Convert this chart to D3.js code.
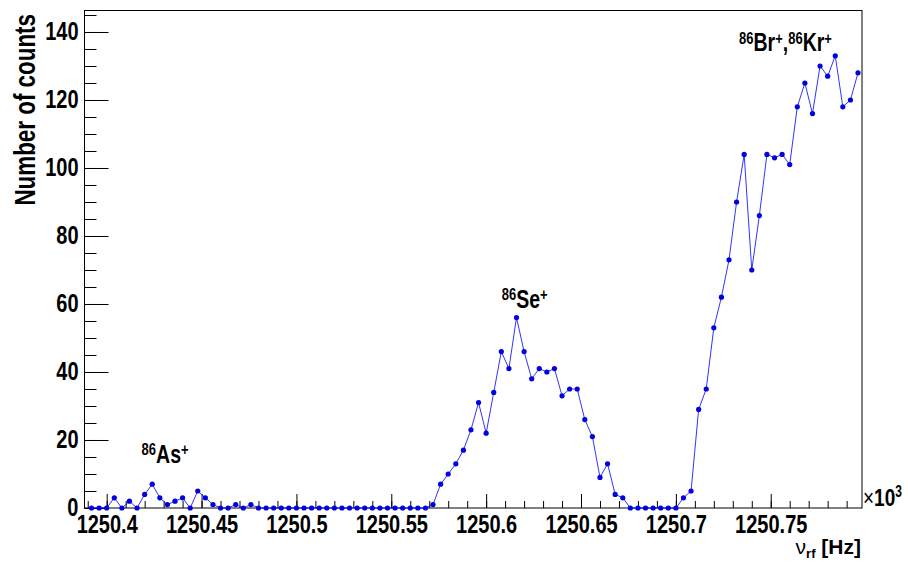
<!DOCTYPE html>
<html><head><meta charset="utf-8">
<script src="https://cdn.jsdelivr.net/npm/d3@7"></script>
<style>
body{margin:0;background:#fff}
svg{display:block}
text{font-family:"Liberation Sans",Arial,Helvetica,sans-serif}
</style>
</head><body>
<svg id="c" width="908" height="562"></svg>
<script>
// ---- data (frequency in Hz, counts) ----
const freqHz = [
 1250392,1250396,1250400,1250404,1250408,1250412,1250416,1250420,1250424,1250428,
 1250432,1250436,1250440,1250444,1250448,1250452,1250456,1250460,1250464,1250468,
 1250472,1250476,1250480,1250484,1250488,1250492,1250496,1250500,1250504,1250508,
 1250512,1250516,1250520,1250524,1250528,1250532,1250536,1250540,1250544,1250548,
 1250552,1250556,1250560,1250564,1250568,1250572,1250576,1250580,1250584,1250588,
 1250592,1250596,1250600,1250604,1250608,1250612,1250616,1250620,1250624,1250628,
 1250632,1250636,1250640,1250644,1250648,1250652,1250656,1250660,1250664,1250668,
 1250672,1250676,1250680,1250684,1250688,1250692,1250696,1250700,1250704,1250708,
 1250712,1250716,1250720,1250724,1250728,1250732,1250736,1250740,1250744,1250748,
 1250752,1250756,1250760,1250764,1250768,1250772,1250776,1250780,1250784,1250788,
 1250792,1250796
];
const counts = [
 0,0,0,3,0,2,0,4,7,3,
 1,2,3,0,5,3,1,0,0,1,
 0,1,0,0,0,0,0,0,0,0,
 0,0,0,0,0,0,0,0,0,0,
 0,0,0,0,0,1,7,10,13,17,
 23,31,22,34,46,41,56,46,38,41,
 40,41,33,35,35,26,21,9,13,4,
 3,0,0,0,0,0,0,0,3,5,
 29,35,53,62,73,90,104,70,86,104,
 103,104,101,118,125,116,130,127,133,118,
 120,128
];
const xTickValues = [1250.4,1250.45,1250.5,1250.55,1250.6,1250.65,1250.7,1250.75];
const xTickLabels = ["1250.4","1250.45","1250.5","1250.55","1250.6","1250.65","1250.7","1250.75"];
const yTickValues = [0,20,40,60,80,100,120,140];
const yTickLabels = ["0","20","40","60","80","100","120","140"];
const peakNames = [
  [["86","As","+"]],
  [["86","Se","+"]],
  [["86","Br","+"],["86","Kr","+"]]
];
const yTitle = "Number of counts";

// ---- layout ----
const W = 908, H = 562;
const L = 84.5, R = 862, T = 10, B = 508;
const SY = 1.3; // vertical stretch of the glyphs seen in the reference
const FONT = '"Liberation Sans",Arial,sans-serif';
const svg = d3.select("#c");
svg.append("rect").attr("width",W).attr("height",H).attr("fill","#fff");

const x = d3.scaleLinear().domain([1250.3883, 1250.7981]).range([L, R]);
const y = d3.scaleLinear().domain([0, 146.47]).range([B, T]);

// frame
svg.append("rect").attr("x",L).attr("y",T+0.5).attr("width",R-L).attr("height",B-T-0.5)
  .attr("fill","none").attr("stroke","#000").attr("stroke-width",1);

// x axis minor
const xMinor = d3.range(1250.39, 1250.795, 0.01);
svg.append("g").attr("transform",`translate(0,${B})`)
  .call(d3.axisBottom(x).tickValues(xMinor).tickFormat("").tickSizeInner(-7).tickSizeOuter(0))
  .call(g=>{g.select(".domain").remove(); g.selectAll("text").remove();});
// x axis major
svg.append("g").attr("transform",`translate(0,${B})`)
  .call(d3.axisBottom(x).tickValues(xTickValues).tickFormat((d,i)=>xTickLabels[i])
        .tickSizeInner(-14).tickSizeOuter(0).tickPadding(7))
  .call(g=>g.select(".domain").remove())
  .call(g=>g.selectAll("text").each(function(){
      const s = d3.select(this);
      s.attr("font-size",20).attr("font-weight","bold").attr("fill","#000").style("font-family",FONT)
       .attr("y",0).attr("transform",`translate(0,7) scale(1,${SY})`);
  }));

// y axis minor
const yMinor = d3.range(0, 146, 5);
svg.append("g").attr("transform",`translate(${L},0)`)
  .call(d3.axisLeft(y).tickValues(yMinor).tickFormat("").tickSizeInner(-12).tickSizeOuter(0))
  .call(g=>{g.select(".domain").remove(); g.selectAll("text").remove();});
// y axis major
svg.append("g").attr("transform",`translate(${L},0)`)
  .call(d3.axisLeft(y).tickValues(yTickValues).tickFormat((d,i)=>yTickLabels[i])
        .tickSizeInner(-24).tickSizeOuter(0).tickPadding(6))
  .call(g=>g.select(".domain").remove())
  .call(g=>g.selectAll("text").each(function(){
      const s = d3.select(this);
      s.attr("font-size",20).attr("font-weight","bold").attr("fill","#000").style("font-family",FONT)
       .attr("x",0).attr("dy","0.28em").attr("transform",`translate(-6,0) scale(1,${SY})`);
  }));

svg.selectAll(".tick line").attr("stroke","#000");

// y title
svg.append("text").attr("transform",`translate(35,14) rotate(-90) scale(1,${SY})`)
  .attr("text-anchor","end").attr("font-size",22.4).attr("font-weight","bold")
  .attr("fill","#000").text(yTitle);

// x title  ν_rf [Hz]
const xt = svg.append("text").attr("transform",`translate(${R-1},554)`)
  .attr("text-anchor","end").attr("font-size",21).attr("fill","#000");
xt.append("tspan").text("\u03BD").attr("font-weight","normal");
xt.append("tspan").text("rf").attr("font-size",13).attr("font-weight","bold").attr("dy",4);
xt.append("tspan").text(" [Hz]").attr("font-weight","bold").attr("dy",-4);

// ×10^3
const ex = svg.append("text").attr("transform",`translate(${R+1},506) scale(1,${SY})`)
  .attr("font-size",19).attr("fill","#000");
ex.append("tspan").text("\u00D7").attr("font-weight","normal");
ex.append("tspan").text("10").attr("font-weight","bold");
ex.append("tspan").text("3").attr("font-size",12).attr("font-weight","bold").attr("dy",-7);

// data line + markers
const pts = freqHz.map((f,i)=>({f:f/1000, c:counts[i]}));
svg.append("path").datum(pts)
  .attr("d", d3.line().x(d=>x(d.f)).y(d=>y(d.c)))
  .attr("fill","none").attr("stroke","#0000ff").attr("stroke-width",1).attr("stroke-opacity",0.8);
svg.append("g").selectAll("circle").data(pts).join("circle")
  .attr("cx",d=>x(d.f)).attr("cy",d=>y(d.c)).attr("r",2.6).attr("fill","#0000e0");

// peak labels (anchors in data coordinates)
const anchors = [[1250.4184,13.2],[1250.6082,58.8],[1250.7333,134.3]];
peakNames.forEach((parts,k)=>{
  const t = svg.append("text")
    .attr("transform",`translate(${x(anchors[k][0])},${y(anchors[k][1])}) scale(1,${SY})`)
    .attr("font-weight","bold").attr("fill","#000").attr("font-size",19.5);
  parts.forEach(([sup,main,plus],j)=>{
    if(j>0) t.append("tspan").text(",").attr("font-size",19.5).attr("dy",6);
    t.append("tspan").text(sup).attr("font-size",13).attr("dy",-6);
    t.append("tspan").text(main).attr("font-size",19.5).attr("dy",6);
    t.append("tspan").text(plus).attr("font-size",13).attr("dy",-6);
  });
});
</script>
</body></html>
